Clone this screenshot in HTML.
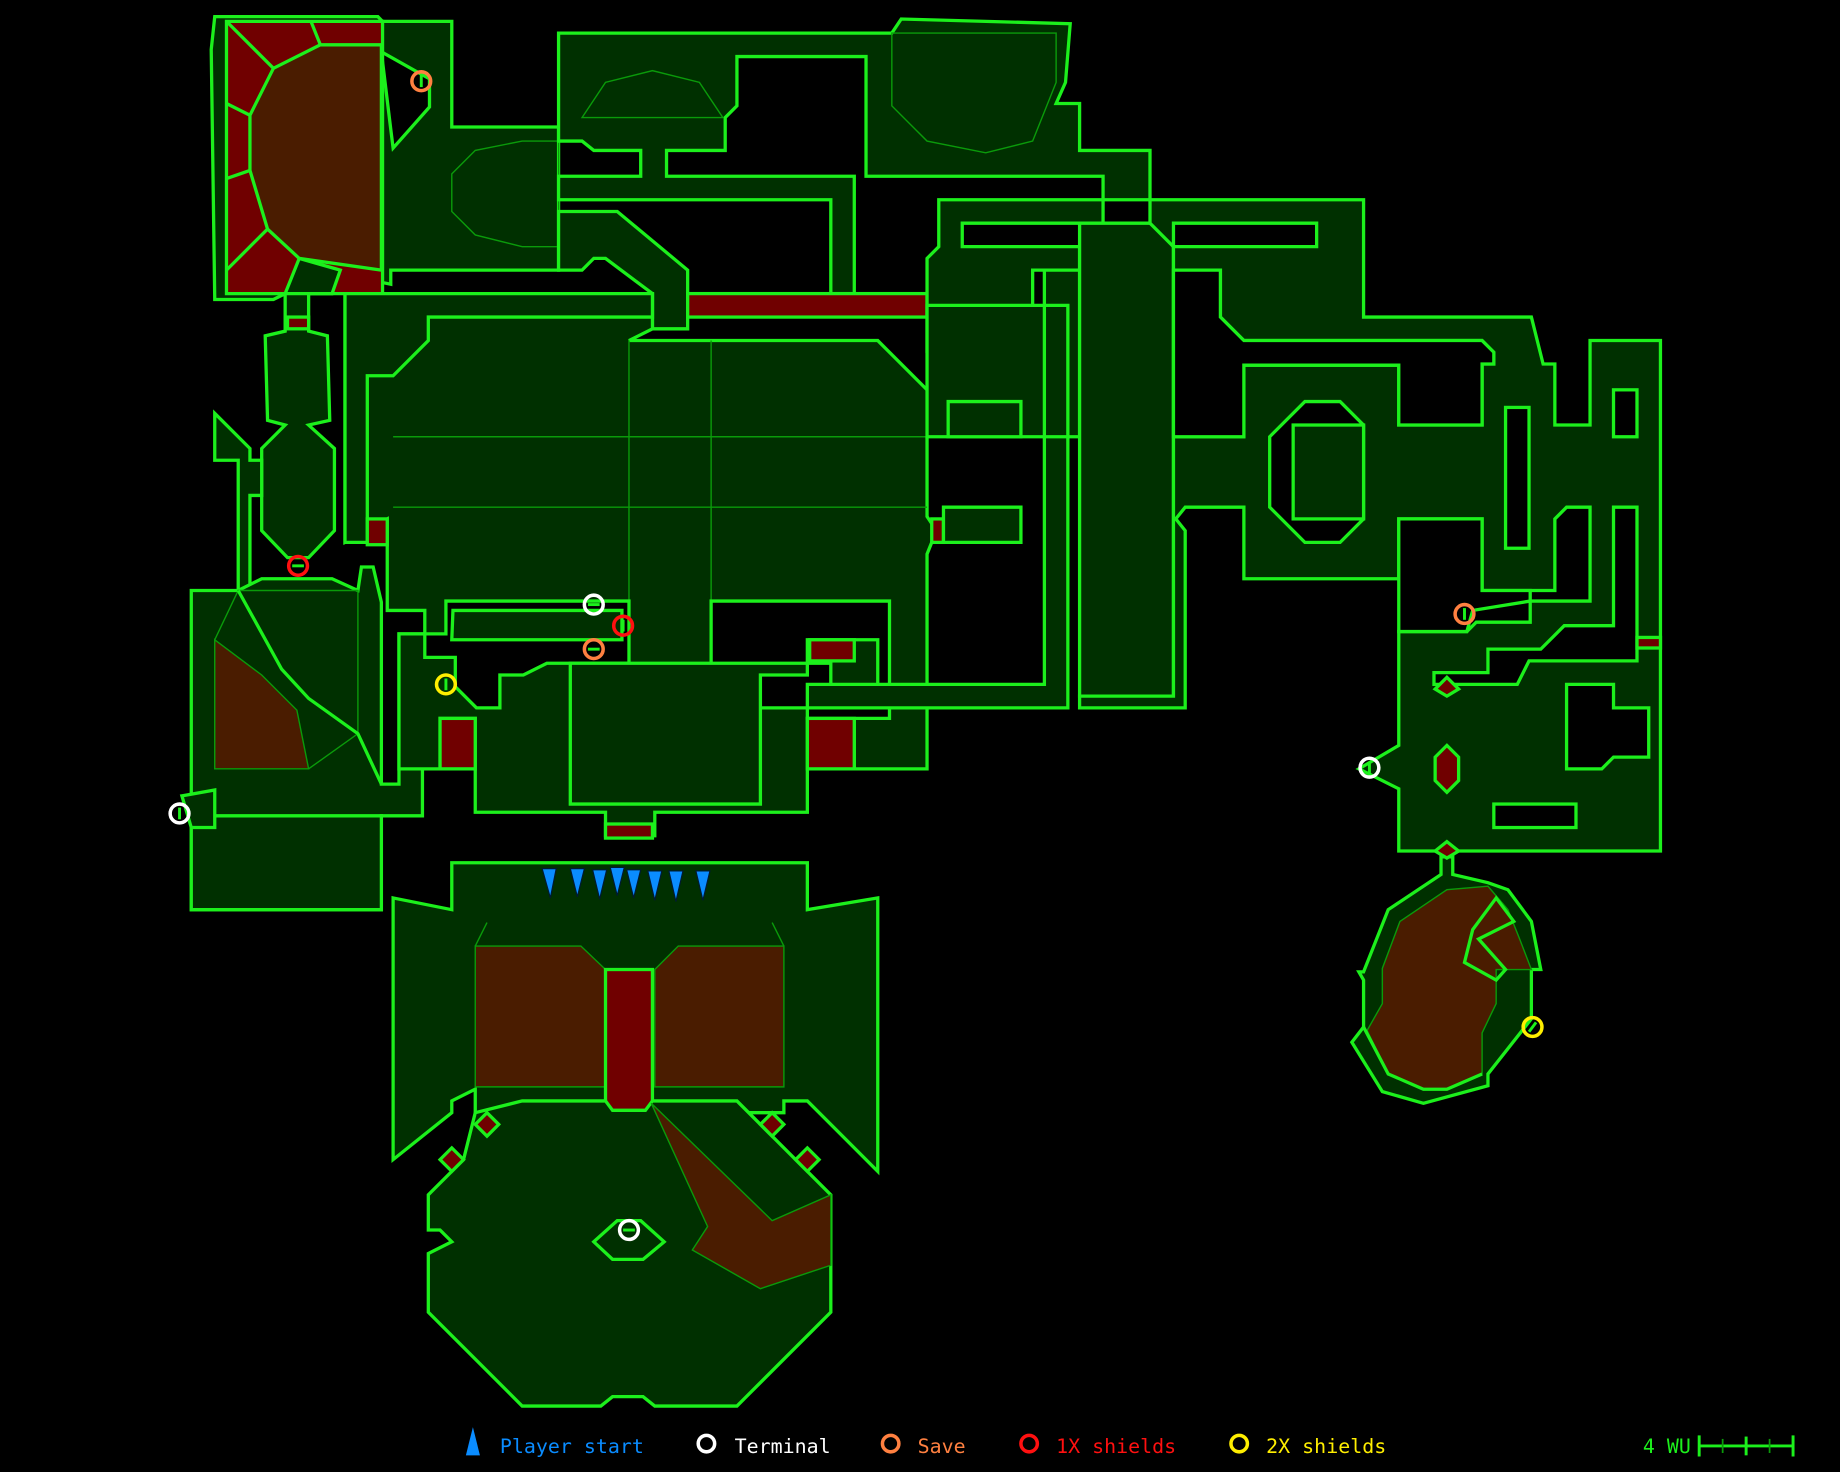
<!DOCTYPE html>
<html><head><meta charset="utf-8"><style>
html,body{margin:0;padding:0;background:#000;width:1840px;height:1472px;overflow:hidden}
svg{display:block}
.g{fill:#003000;stroke:#1cf01c;stroke-width:2.8;stroke-linejoin:miter}
.r{fill:#700000;stroke:#1cf01c;stroke-width:2.8}
.b{fill:#4a1c00;stroke:#0a9a0a;stroke-width:1.2}
.bb{fill:#4a1c00;stroke:#1cf01c;stroke-width:2.8}
.k{fill:#000;stroke:#1cf01c;stroke-width:2.8}
.t{fill:none;stroke:#0a9a0a;stroke-width:1.2}
.p{fill:#0a8cff;stroke:#001a33;stroke-width:1}
text{font-family:"DejaVu Sans Mono","Liberation Mono",monospace;font-size:17px}
</style></head><body>
<svg width="1840" height="1472" viewBox="0 0 1568 1254" xmlns="http://www.w3.org/2000/svg">
<!-- top-left room -->
<polygon class="g" points="180,42 183,14 322,14 326,18 385,18 385,108 476,108 476,230 333,230 333,242 313,238 293,230 283,250 243,250 233,255 183,255"/>
<polygon class="k" points="325,44 366,67 366,91 335,126 333,110"/>
<polygon class="r" points="193,18 326,18 326,250 193,250"/>
<polygon class="bb" points="233,58 273,38 325,38 325,230 255,220 228,195 213,145 213,98"/>
<polyline class="g" style="fill:none" points="193,18 233,58"/><polyline class="g" style="fill:none" points="265,18 273,38"/>
<polyline class="g" style="fill:none" points="193,88 213,98"/><polyline class="g" style="fill:none" points="193,152 213,145"/>
<polyline class="g" style="fill:none" points="193,230 228,195"/>
<polygon class="g" points="255,220 290,230 283,250 243,250"/>
<polygon class="t" points="385,148 405,128 445,120 476,120 476,210 445,210 405,200 385,180"/>
<!-- top corridors -->
<polygon class="g" points="476,28 760,28 768,16 912,20 908,70 900,88 920,88 920,128 980,128 980,170 940,170 940,150 738,150 738,48 628,48 628,90 618,100 618,128 568,128 568,150 728,150 728,250 708,250 708,170 476,170 476,150 546,150 546,128 506,128 496,120 476,120"/>
<polygon class="t" points="496,100 516,70 556,60 596,70 616,100"/>
<polygon class="t" points="760,28 900,28 900,70 880,120 840,130 790,120 760,90"/>
<polygon class="g" points="476,180 526,180 586,230 586,280 556,280 556,250 516,220 506,220 496,230 476,230"/>
<rect class="r" x="586" y="250" width="204" height="20"/>
<!-- left small rooms -->
<polygon class="g" points="243,250 263,250 263,282 279,286 281,358 263,362 285,382 285,452 263,475 245,475 223,452 223,382 243,362 228,358 226,286 243,282"/>
<rect class="r" x="245" y="270" width="18" height="10"/>
<polygon class="g" points="183,352 213,382 213,392 223,392 223,422 213,422 213,503 203,503 203,392 183,392"/>
<!-- left big room -->
<polygon class="g" points="163,503 203,503 223,493 283,493 305,503 308,483 318,483 325,513 325,668 340,668 340,540 360,540 360,695 325,695 325,775 163,775"/>
<polygon class="t" points="203,503 305,503 305,625 263,655 183,655 183,545"/>
<polygon class="b" points="183,545 223,575 253,605 263,655 183,655"/>
<polyline class="g" style="fill:none" points="203,503 240,570 263,595 305,625 325,668"/>
<polygon class="g" points="163,695 325,695 325,775 163,775"/>
<polygon class="g" points="155,678 183,673 183,705 163,705"/>
<!-- main central room -->
<polygon class="g" points="294,250 556,250 556,280 536,290 748,290 798,340 798,362 790,372 790,440 798,452 790,472 790,655 728,655 728,612 688,612 688,692 558,692 558,712 516,712 516,692 405,692 405,612 375,612 375,655 340,655 340,540 362,540 362,520 330,520 330,442 294,462"/>
<polygon class="g" points="294,250 556,250 556,270 365,270 365,290 335,320 313,320 313,462 294,462"/>
<polyline class="t" points="335,372 790,372"/><polyline class="t" points="335,432 790,432"/>
<polyline class="t" points="536,290 536,565 606,565 606,290"/>
<rect class="r" x="313" y="442" width="17" height="22"/>
<rect class="r" x="798" y="342" width="10" height="20"/><rect class="r" x="794" y="442" width="10" height="20"/>
<polygon class="k" points="362,540 380,540 380,512 536,512 536,565 466,565 446,575 426,575 426,603 406,603 388,585 388,560 362,560"/>
<polygon class="g" points="386,520 530,520 530,545 385,545"/>
<polygon class="k" points="606,512 758,512 758,612 688,612 688,603 648,603 606,565"/>
<polygon class="g" points="688,545 748,545 748,585 708,585 708,565 688,565"/>
<rect class="r" x="690" y="545" width="38" height="18"/>
<polygon class="g" points="486,565 688,565 688,575 648,575 648,685 486,685"/>
<rect class="r" x="375" y="612" width="30" height="43"/><rect class="r" x="688" y="612" width="40" height="43"/>
<rect class="r" x="516" y="702" width="40" height="12"/>
<!-- right corridor structures -->
<polygon class="g" points="800,170 940,170 940,190 820,190 820,210 920,210 920,230 880,230 880,290 858,310 798,310 790,300 790,220 800,210"/>
<polygon class="g" points="790,260 910,260 910,603 688,603 688,583 890,583 890,230 920,230 920,372 790,372"/>
<polygon class="g" points="808,342 870,342 870,372 808,372"/><polygon class="g" points="804,432 870,432 870,462 804,462"/>
<polygon class="g" points="920,190 1000,190 1000,593 920,593"/>
<polygon class="g" points="980,170 1162,170 1162,270 1305,270 1315,310 1325,310 1325,362 1355,362 1355,290 1415,290 1415,725 1192,725 1192,672 1158,655 1192,635 1192,538 1250,538 1258,530 1304,530 1304,512 1355,512 1355,432 1335,432 1325,442 1325,503 1263,503 1263,442 1192,442 1192,493 1060,493 1060,432 1010,432 1002,442 1010,452 1010,603 920,603 920,593 1000,593 1000,230 1040,230 1040,270 1060,290 1263,290 1273,300 1273,310 1263,310 1263,362 1192,362 1192,311 1060,311 1060,372 1000,372 1000,210 980,190"/>
<polygon class="k" points="1000,190 1122,190 1122,210 1000,210"/>
<polygon class="k" points="1000,230 1040,230 1040,270 1060,290 1263,290 1273,300 1273,310 1263,310 1263,362 1192,362 1192,311 1060,311 1060,372 1000,372"/>
<polygon class="k" points="1082,372 1112,342 1142,342 1162,362 1162,442 1142,462 1112,462 1082,432"/>
<rect class="g" x="1102" y="362" width="60" height="80"/>
<rect class="k" x="1283" y="347" width="20" height="120"/>
<rect class="k" x="1375" y="332" width="20" height="40"/>
<polygon class="k" points="1375,432 1395,432 1395,563 1303,563 1293,583 1222,583 1222,573 1268,573 1268,553 1313,553 1333,533 1375,533"/>
<polygon class="k" points="1192,538 1192,442 1263,442 1263,503 1304,503 1304,512 1255,520 1250,538"/>
<rect class="r" x="1395" y="543" width="20" height="9"/>
<rect class="k" x="1273" y="685" width="70" height="20"/>
<polygon class="k" points="1335,583 1375,583 1375,603 1405,603 1405,645 1375,645 1365,655 1335,655"/>
<polygon class="r" points="1233,635 1243,645 1243,665 1233,675 1223,665 1223,645"/>
<polygon class="r" points="1233,577 1243,587 1233,593 1223,587"/>
<!-- right bottom room -->
<polygon class="g" points="1228,745 1228,730 1238,730 1238,745 1268,752 1285,758 1305,785 1313,826 1305,826 1305,868 1268,915 1268,925 1213,940 1178,930 1152,888 1162,875 1162,835 1158,828 1162,828 1183,775"/>
<polygon class="r" points="1233,717 1243,725 1233,731 1223,725"/>
<polygon class="b" points="1193,785 1233,758 1268,755 1285,775 1295,800 1305,826 1275,826 1275,855 1263,880 1263,915 1233,928 1213,928 1183,915 1165,878 1178,855 1178,825"/>
<polyline class="g" style="fill:none" points="1162,875 1183,915 1213,928 1233,928 1263,915"/>
<polygon class="g" style="fill:none" points="1255,792 1275,765 1290,785 1260,800 1283,826 1275,835 1248,820"/>
<!-- bottom big room -->
<polygon class="g" points="335,765 385,775 385,735 688,735 688,775 748,765 748,998 688,938 668,938 668,948 558,948 556,938 516,938 516,948 405,948 405,928 385,938 385,948 335,988"/>
<polyline class="t" points="405,806 415,786"/><polyline class="t" points="668,806 658,786"/>
<polygon class="b" points="405,806 495,806 516,826 516,926 405,926"/>
<polygon class="b" points="558,826 578,806 668,806 668,926 558,926"/>
<rect class="r" x="516" y="826" width="40" height="120"/>
<polygon class="g" points="365,1018 395,988 405,948 445,938 516,938 522,946 550,946 556,938 628,938 708,1018 708,1118 628,1198 558,1198 548,1190 522,1190 512,1198 445,1198 365,1118 365,1068 385,1058 375,1048 365,1048"/>
<polygon class="b" points="555,940 658,1040 708,1018 708,1078 648,1098 590,1065 603,1045"/>
<polygon class="r" points="415,948 425,958 415,968 405,958"/><polygon class="r" points="385,978 395,988 385,998 375,988"/>
<polygon class="r" points="658,948 668,958 658,968 648,958"/><polygon class="r" points="688,978 698,988 688,998 678,988"/>
<polygon class="g" points="506,1058 526,1040 546,1040 566,1058 548,1073 522,1073"/>
<!-- player starts -->
<g class="p">
<polygon points="462,740 474,740 469,765"/><polygon points="486,740 498,740 492,764"/><polygon points="505,741 517,741 511,766"/>
<polygon points="520,739 532,739 526,763"/><polygon points="534,741 546,741 540,765"/><polygon points="552,742 564,742 558,767"/>
<polygon points="570,742 582,742 576,768"/><polygon points="593,742 605,742 599,767"/>
</g>
<!-- markers -->
<g style="fill:none;stroke-width:3">
<circle cx="359" cy="69" r="8" stroke="#ff8040"/>
<circle cx="254" cy="482" r="8" stroke="#ff1010"/>
<circle cx="506" cy="515" r="8" stroke="#ffffff"/>
<circle cx="531" cy="533" r="8" stroke="#ff1010"/>
<circle cx="506" cy="553" r="8" stroke="#ff8040"/>
<circle cx="380" cy="583" r="8" stroke="#ffee00"/>
<circle cx="153" cy="693" r="8" stroke="#ffffff"/>
<circle cx="536" cy="1048" r="8" stroke="#ffffff"/>
<circle cx="1248" cy="523" r="8" stroke="#ff8040"/>
<circle cx="1167" cy="654" r="8" stroke="#ffffff"/>
<circle cx="1306" cy="875" r="8" stroke="#ffee00"/>
</g>
<g stroke="#1cf01c" stroke-width="2.5">
<line x1="359" y1="64" x2="359" y2="74"/><line x1="249" y1="482" x2="259" y2="482"/><line x1="501" y1="515" x2="511" y2="515"/>
<line x1="531" y1="528" x2="531" y2="538"/><line x1="501" y1="553" x2="511" y2="553"/><line x1="380" y1="578" x2="380" y2="588"/>
<line x1="153" y1="688" x2="153" y2="698"/><line x1="531" y1="1048" x2="541" y2="1048"/><line x1="1248" y1="518" x2="1248" y2="528"/>
<line x1="1167" y1="649" x2="1167" y2="659"/><line x1="1303" y1="879" x2="1309" y2="871"/>
</g>
<!-- legend -->
<polygon points="403,1216 397,1240 409,1240" fill="#0a8cff"/>
<text x="426" y="1238" fill="#0a8cff">Player start</text>
<circle cx="602" cy="1230" r="7" fill="none" stroke="#fff" stroke-width="3"/>
<text x="626" y="1238" fill="#fff">Terminal</text>
<circle cx="759" cy="1230" r="7" fill="none" stroke="#ff8040" stroke-width="3"/>
<text x="782" y="1238" fill="#ff8040">Save</text>
<circle cx="877" cy="1230" r="7" fill="none" stroke="#ff1010" stroke-width="3"/>
<text x="900" y="1238" fill="#ff1010">1X shields</text>
<circle cx="1056" cy="1230" r="7" fill="none" stroke="#ffee00" stroke-width="3"/>
<text x="1079" y="1238" fill="#ffee00">2X shields</text>
<text x="1400" y="1238" fill="#1cf01c">4 WU</text>
<g stroke="#1cf01c" stroke-width="2.5"><line x1="1448" y1="1232" x2="1528" y2="1232"/><line x1="1448" y1="1223" x2="1448" y2="1241"/><line x1="1528" y1="1223" x2="1528" y2="1241"/><line x1="1488" y1="1224" x2="1488" y2="1240"/></g>
<g stroke="#0a9a0a" stroke-width="1.5"><line x1="1468" y1="1226" x2="1468" y2="1238"/><line x1="1508" y1="1226" x2="1508" y2="1238"/></g>
</svg>
</body></html>
